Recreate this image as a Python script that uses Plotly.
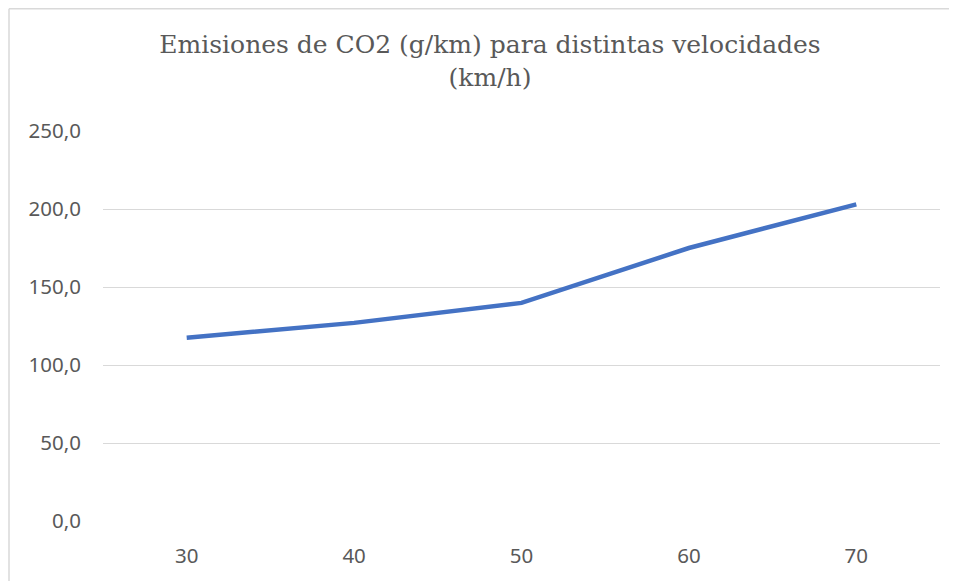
import plotly.graph_objects as go

# velocidades (km/h) y emisiones de CO2 (g/km)
velocidades = ["30", "40", "50", "60", "70"]
emisiones = [117.5, 127.0, 139.8, 175.0, 203.0]
y_ticks = [0, 50, 100, 150, 200, 250]

TEXT_GREY = "#595959"
GRID_GREY = "#D9D9D9"

# la página deja 8 px de margen en el body
W, H = 949, 573

fig = go.Figure(go.Scatter(
    x=velocidades,
    y=emisiones,
    mode="lines",
    line=dict(color="#4472C4", width=4.5),
    hoverinfo="x+y",
))

fig.update_layout(
    width=W,
    height=H,
    margin=dict(l=95, r=17, t=123, b=60),
    paper_bgcolor="white",
    plot_bgcolor="white",
    separators=",.",
    showlegend=False,
    title=dict(
        text="Emisiones de CO2 (g/km) para distintas velocidades<br>(km/h)",
        x=(490 - 8) / W,
        xanchor="center",
        xref="container",
        y=1 - 45 / H,
        yanchor="top",
        yref="container",
        font=dict(family="DejaVu Serif", size=25, color=TEXT_GREY),
    ),
    font=dict(family="Noto Sans", size=20.5, color=TEXT_GREY),
)

fig.update_xaxes(
    type="category",
    range=[-0.5, 4.5],
    showgrid=False,
    showline=False,
    zeroline=False,
    ticks="",
    ticklabelstandoff=20,
)

fig.update_yaxes(
    range=[0, 250],
    tickvals=y_ticks,
    tickformat=".1f",
    showgrid=True,
    gridcolor=GRID_GREY,
    gridwidth=1,
    zeroline=False,
    showline=False,
    ticks="",
    ticklabelstandoff=21,
)

# marco gris claro del gráfico (solo se ve arriba y a la izquierda)
x_left = (9 - 103) / 837
y_top = (513 - 0.75) / 390
fig.add_shape(type="line", xref="paper", yref="paper",
              x0=x_left, x1=1.05, y0=y_top, y1=y_top,
              line=dict(color=GRID_GREY, width=1.5), layer="below")
fig.add_shape(type="line", xref="paper", yref="paper",
              x0=x_left, x1=x_left, y0=-0.2, y1=y_top,
              line=dict(color=GRID_GREY, width=1.5), layer="below")

fig.write_html("out.html")
